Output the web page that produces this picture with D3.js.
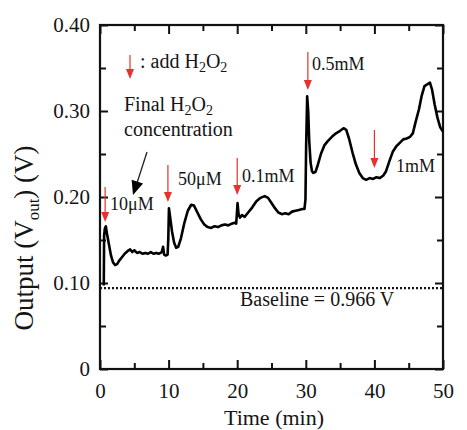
<!DOCTYPE html>
<html><head><meta charset="utf-8">
<script src="https://cdn.jsdelivr.net/npm/d3@7"></script>
<style>
body{margin:0;background:#fff}
svg{display:block;background:#fff}
text{font-family:"Liberation Serif","Times New Roman",serif;fill:#151515}
</style>
</head><body><svg id="c" width="467" height="430"></svg>
<script>
// ---------- data ----------
const timeMin = [0.55,0.6,0.7,0.85,1.0,1.3,1.6,1.9,2.2,2.5,2.8,3.2,3.6,4.0,4.4,4.7,5.0,5.4,5.8,6.2,6.6,7.0,7.4,7.8,8.2,8.6,9.0,9.2,9.35,9.6,9.85,9.95,10.05,10.2,10.5,10.8,11.1,11.4,11.8,12.3,12.8,13.3,13.7,14.2,14.7,15.2,15.7,16.2,16.7,17.2,17.7,18.2,18.7,19.2,19.6,19.85,19.95,20.05,20.2,20.4,20.7,21.1,21.6,22.2,22.8,23.4,24.0,24.5,25.0,25.5,26.0,26.5,27.0,27.5,28.0,28.5,29.0,29.5,29.8,29.95,30.05,30.2,30.35,30.5,30.7,30.9,31.1,31.4,31.7,32.2,32.7,33.2,33.8,34.4,35.0,35.5,35.9,36.3,36.8,37.3,37.8,38.3,38.8,39.3,39.8,40.3,40.8,41.3,41.7,42.2,42.7,43.2,43.7,44.2,44.7,45.2,45.6,46.0,46.5,46.9,47.3,47.7,48.1,48.4,48.8,49.2,49.6,50.0];
const outputV = [0.097,0.155,0.163,0.166,0.158,0.145,0.132,0.124,0.121,0.122,0.126,0.130,0.134,0.137,0.139,0.136,0.138,0.135,0.136,0.134,0.135,0.134,0.136,0.134,0.135,0.134,0.136,0.142,0.133,0.132,0.133,0.150,0.187,0.178,0.160,0.147,0.141,0.142,0.152,0.170,0.184,0.191,0.190,0.182,0.174,0.168,0.165,0.164,0.166,0.165,0.167,0.168,0.167,0.169,0.170,0.169,0.180,0.193,0.180,0.176,0.179,0.177,0.182,0.188,0.195,0.199,0.201,0.199,0.193,0.187,0.182,0.180,0.181,0.180,0.183,0.184,0.185,0.186,0.186,0.197,0.260,0.317,0.300,0.265,0.240,0.230,0.228,0.229,0.236,0.250,0.260,0.265,0.270,0.274,0.277,0.280,0.278,0.268,0.252,0.238,0.228,0.222,0.220,0.222,0.221,0.223,0.222,0.225,0.230,0.242,0.253,0.259,0.263,0.267,0.268,0.270,0.274,0.287,0.302,0.318,0.329,0.331,0.333,0.325,0.307,0.292,0.281,0.276];

const xMajorTicks = [0,10,20,30,40,50];
const xMinorTicks = [5,15,25,35,45];
const yMajorTicks = [0,0.1,0.2,0.3,0.4];
const yTickLabels = ["0","0.10","0.20","0.30","0.40"];
const yMinorTicks = [0.05,0.15,0.25,0.35];
const additionTimes = [0.75,9.9,20,30.3,40];
const concLabels = ["10\u03bcM","50\u03bcM","0.1mM","0.5mM","1mM"];
const baselineV = 0.094;
const baselineLabel = "Baseline = 0.966 V";

// ---------- layout ----------
const W = 467, H = 430;
const m = {l:100, r:24, t:25, b:61};
const svg = d3.select("#c");
const x = d3.scaleLinear().domain([0,50]).range([m.l, W-m.r]);
const y = d3.scaleLinear().domain([0,0.4]).range([H-m.b, m.t]);
const red = "#e5322d";

// axes
function styleAxis(g){ g.select(".domain").remove(); g.selectAll(".tick line").attr("stroke","#111").attr("stroke-width",2); }
const fs = "21px";
svg.append("g").attr("transform",`translate(0,${y(0)})`)
  .call(d3.axisBottom(x).tickValues(xMajorTicks).tickSize(-9).tickFormat(d3.format("d")))
  .call(styleAxis)
  .call(g=>g.selectAll("text").attr("y",14).attr("dy","0.71em").style("font-size",fs).style("font-family","Liberation Serif").attr("fill","#151515"));
svg.append("g").attr("transform",`translate(0,${y(0)})`)
  .call(d3.axisBottom(x).tickValues(xMinorTicks).tickSize(-6).tickFormat(""))
  .call(styleAxis);
svg.append("g").attr("transform",`translate(0,${y(0.4)})`)
  .call(d3.axisTop(x).tickValues(xMajorTicks).tickSize(-9).tickFormat(""))
  .call(styleAxis);
svg.append("g").attr("transform",`translate(0,${y(0.4)})`)
  .call(d3.axisTop(x).tickValues(xMinorTicks).tickSize(-6).tickFormat(""))
  .call(styleAxis);
svg.append("g").attr("transform",`translate(${x(0)},0)`)
  .call(d3.axisLeft(y).tickValues(yMajorTicks).tickSize(-8).tickPadding(10).tickFormat((d,i)=>yTickLabels[i]))
  .call(styleAxis)
  .call(g=>g.selectAll("text").style("font-size",fs).style("font-family","Liberation Serif").attr("fill","#151515"));
svg.append("g").attr("transform",`translate(${x(0)},0)`)
  .call(d3.axisLeft(y).tickValues(yMinorTicks).tickSize(-6).tickFormat(""))
  .call(styleAxis);
svg.append("g").attr("transform",`translate(${x(50)},0)`)
  .call(d3.axisRight(y).tickValues(yMajorTicks).tickSize(-8).tickFormat(""))
  .call(styleAxis);
svg.append("g").attr("transform",`translate(${x(50)},0)`)
  .call(d3.axisRight(y).tickValues(yMinorTicks).tickSize(-6).tickFormat(""))
  .call(styleAxis);

// frame
svg.append("rect").attr("x",x(0)).attr("y",y(0.4)).attr("width",x(50)-x(0)).attr("height",y(0)-y(0.4))
  .attr("fill","none").attr("stroke","#111").attr("stroke-width",2.2);

// baseline
svg.append("line").attr("x1",x(0)).attr("x2",x(50)).attr("y1",y(baselineV)).attr("y2",y(baselineV))
  .attr("stroke","#111").attr("stroke-width",2.2).attr("stroke-dasharray","2,2");
svg.append("text").attr("x",240).attr("y",y(baselineV)+18).style("font-size","20px").text(baselineLabel);

// data line
const pts = timeMin.map((t,i)=>[t,outputV[i]]);
svg.append("path").datum(pts)
  .attr("d", d3.line().x(d=>x(d[0])).y(d=>y(d[1])))
  .attr("fill","none").attr("stroke","#000").attr("stroke-width",2.6).attr("stroke-linejoin","round");

// red arrows
function redArrow(cx, y1, y2){
  svg.append("line").attr("x1",cx).attr("x2",cx).attr("y1",y1).attr("y2",y2-8).attr("stroke",red).attr("stroke-width",1.2);
  svg.append("path").attr("d",`M${cx-4},${y2-10}L${cx+4},${y2-10}L${cx},${y2}Z`).attr("fill",red);
}
const arrowSpan = [[187,222],[165,202],[158,195],[52,90],[130,168]];
const labelPos = [[110,210],[178,185],[242,182],[312,70],[396,172]];
additionTimes.forEach((t,i)=>{
  redArrow(x(t), arrowSpan[i][0], arrowSpan[i][1]);
  svg.append("text").attr("x",labelPos[i][0]).attr("y",labelPos[i][1]).style("font-size","18px").text(concLabels[i]);
});

// legend arrow
redArrow(130, 55, 79);
function h2o2(t, parts){
  parts.forEach(p=>{
    if(p.sub) t.append("tspan").attr("dy",4).style("font-size","14px").text(p.s);
    else t.append("tspan").attr("dy",p.up?-4:0).text(p.s);
  });
}
const t1 = svg.append("text").attr("x",140).attr("y",68).style("font-size","20px");
h2o2(t1,[{s:": add H"},{s:"2",sub:true},{s:"O",up:true},{s:"2",sub:true}]);
const t2 = svg.append("text").attr("x",124).attr("y",111).style("font-size","20px");
h2o2(t2,[{s:"Final H"},{s:"2",sub:true},{s:"O",up:true},{s:"2",sub:true}]);
svg.append("text").attr("x",124).attr("y",136).style("font-size","20px").text("concentration");

// black arrow
svg.append("line").attr("x1",147).attr("y1",152).attr("x2",137).attr("y2",183).attr("stroke","#222").attr("stroke-width",1.3);
const ang = Math.atan2(195-152,133-147);
const tipX=133, tipY=195, hl=14, hw=6;
const bx = tipX - hl*Math.cos(ang), by = tipY - hl*Math.sin(ang);
svg.append("path").attr("d",`M${tipX},${tipY}L${bx+hw*Math.sin(ang)},${by-hw*Math.cos(ang)}L${bx-hw*Math.sin(ang)},${by+hw*Math.cos(ang)}Z`).attr("fill","#000");

// axis titles
svg.append("text").attr("x",274).attr("y",425).attr("text-anchor","middle").style("font-size","22px").text("Time (min)");
const yt = svg.append("text").attr("transform","translate(33,238) rotate(-90)").attr("text-anchor","middle").style("font-size","27px");
yt.append("tspan").text("Output (V");
yt.append("tspan").attr("dy",6).style("font-size","17px").text("out");
yt.append("tspan").attr("dy",-6).text(") (V)");
</script></body></html>
